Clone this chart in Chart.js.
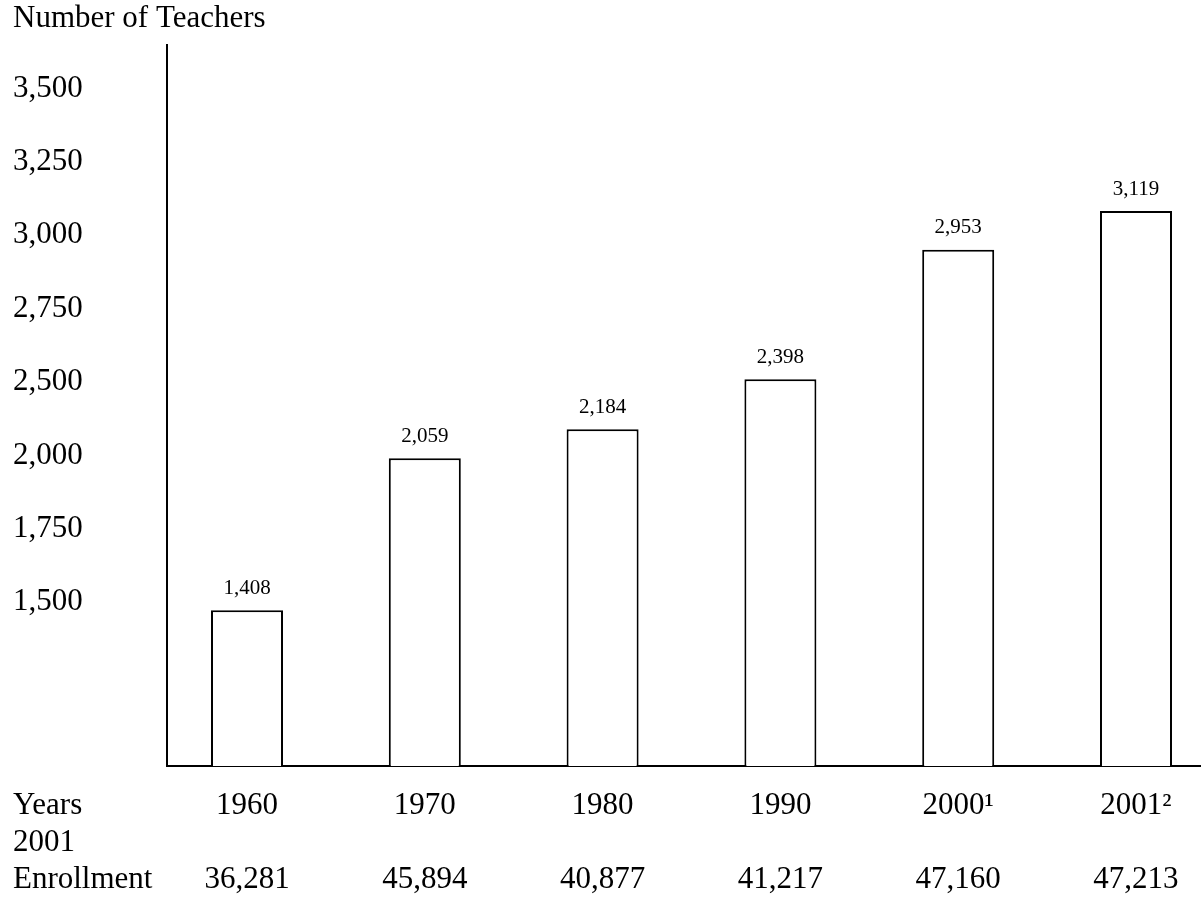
<!DOCTYPE html>
<html>
<head>
<meta charset="utf-8">
<title>Number of Teachers</title>
<script src="https://cdn.jsdelivr.net/npm/chart.js@4"></script>
<style>
  body { margin: 0; background: #fff; }
  #wrap { width: 1204px; height: 916px; }
</style>
</head>
<body>
<div id="wrap"><canvas id="teacherChart"></canvas></div>
<script>
// DATA
let years = ["1960", "1970", "1980", "1990", "2000\u00b9", "2001\u00b2"];
let enrollment = ["36,281", "45,894", "40,877", "41,217", "47,160", "47,213"];
let teachers = [1408, 2059, 2184, 2398, 2953, 3119];
let teacherTicks = ["3,500", "3,250", "3,000", "2,750", "2,500", "2,000", "1,750", "1,500"];
let rowHeads = ["Years", "2001", "Enrollment"];

let serif = '"Liberation Serif", "Times New Roman", serif';
let tickPad = 21;
let lineH = 37;
let lastTick = teacherTicks.length - 1;

Chart.defaults.font.family = serif;
Chart.defaults.color = "#000";

// VALUE ABOVE EACH BAR
let valueLabels = {
    id: "valueLabels",
    afterDatasetsDraw(chart) {
        let ctx = chart.ctx;
        ctx.save();
        ctx.font = "21px " + serif;
        ctx.fillStyle = "#000";
        ctx.textAlign = "center";
        ctx.textBaseline = "middle";
        chart.getDatasetMeta(0).data.forEach((bar, i) => {
            ctx.fillText(teachers[i].toLocaleString("en-US"), bar.x, bar.y - 22);
        });
        ctx.restore();
    }
};

// ROW HEADERS LEFT OF THE TABLE
let rowHeaders = {
    id: "rowHeaders",
    afterDraw(chart) {
        let ctx = chart.ctx;
        let xs = chart.scales.x;
        ctx.save();
        ctx.font = "31px " + serif;
        ctx.fillStyle = "#000";
        ctx.textAlign = "left";
        ctx.textBaseline = "middle";
        rowHeads.forEach((t, k) => {
            ctx.fillText(t, chart.scales.yLab.left, xs.top + tickPad + lineH * (k + 0.5));
        });
        ctx.restore();
    }
};

// CHART
new Chart(document.getElementById("teacherChart"), {
    type: "bar",
    data: {
        datasets: [{
            data: teachers.map((v, i) => ({x: i, y: v})),
            backgroundColor: "#fff",
            borderColor: "#000",
            borderWidth: 2,
            borderSkipped: "bottom",
            barPercentage: 1,
            categoryPercentage: 0.405
        }]
    },
    options: {
        responsive: true,
        maintainAspectRatio: false,
        animation: false,
        layout: {padding: {left: 13, right: 4, top: 0, bottom: 0}},
        plugins: {
            legend: {display: false},
            tooltip: {enabled: false},
            title: {
                display: true,
                text: "Number of Teachers",
                align: "start",
                color: "#000",
                font: {size: 31, weight: "normal", lineHeight: 1.2},
                padding: {top: 0, bottom: 8}
            }
        },
        scales: {
            x: {
                type: "linear",
                offset: false,
                min: -0.45,
                max: 5.36,
                grid: {display: false, drawTicks: false},
                border: {color: "#000", width: 2},
                afterBuildTicks: s => { s.ticks = years.map((_, i) => ({value: i})); },
                afterFit: s => { s.height = 150; },
                ticks: {
                    padding: tickPad,
                    maxRotation: 0,
                    autoSkip: false,
                    font: {size: 31, lineHeight: lineH / 31},
                    callback: v => [years[v], "", enrollment[v]]
                }
            },
            y: {display: false, min: 740, max: 3830},
            yLab: {
                type: "linear",
                position: "left",
                min: -2.23,
                max: 7.59,
                grid: {display: false, drawTicks: false},
                border: {color: "#000", width: 2},
                afterBuildTicks: s => { s.ticks = teacherTicks.map((_, i) => ({value: lastTick - i})); },
                afterFit: s => { s.width = 154; },
                ticks: {
                    crossAlign: "far",
                    autoSkip: false,
                    font: {size: 31},
                    callback: v => teacherTicks[lastTick - v]
                }
            }
        }
    },
    plugins: [valueLabels, rowHeaders]
});
</script>
</body>
</html>
